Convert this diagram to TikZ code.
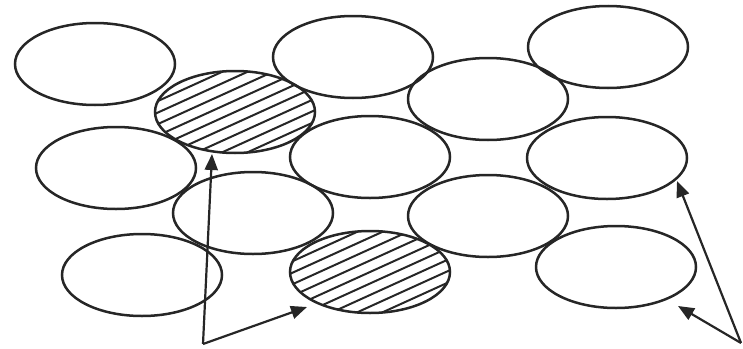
\documentclass[tikz,border=0pt]{standalone}
\usetikzlibrary{shapes.geometric,arrows.meta}
\begin{document}
\begin{tikzpicture}[x=1pt,y=-1pt,
  cell/.style={draw=black!85,line width=2.5pt,ellipse,minimum width=160pt,minimum height=82pt,inner sep=0pt},
  hatched/.style={cell,path picture={
     \foreach \i in {-12,...,12}
       \draw[line width=2pt,black!85,shift={(path picture bounding box.center)}] (-110,\i*11.5+50) -- (110,\i*11.5-50);}},
  pointer/.style={line width=2.2pt,black!85,-{Triangle[length=16pt,width=13pt]}}]
\useasboundingbox (0,0) rectangle (743,348);
% row 1
\node[cell] (a) at (95,64) {};
\node[cell] (b) at (353,57) {};
\node[cell] (c) at (608,47) {};
% row 2
\node[hatched] (h1) at (235,112) {};
\node[cell] (d) at (488,99) {};
% row 3
\node[cell] (e) at (116,168) {};
\node[cell] (f) at (370,157) {};
\node[cell] (g) at (607,158) {};
% row 4
\node[cell] (i) at (253,213) {};
\node[cell] (j) at (488,216) {};
% row 5
\node[cell] (k) at (142,275) {};
\node[hatched] (h2) at (370,272) {};
\node[cell] (l) at (616,267) {};
% arrows
\coordinate (s1) at (203,344);
\coordinate (s2) at (741,343);
\coordinate (t1) at (212,154);
\coordinate (t2) at (307,307);
\coordinate (t3) at (677,181);
\coordinate (t4) at (678,306);
\draw[pointer] (s1) -- (t1);
\draw[pointer] (s1) -- (t2);
\draw[pointer] (s2) -- (t3);
\draw[pointer] (s2) -- (t4);
\end{tikzpicture}
\end{document}
